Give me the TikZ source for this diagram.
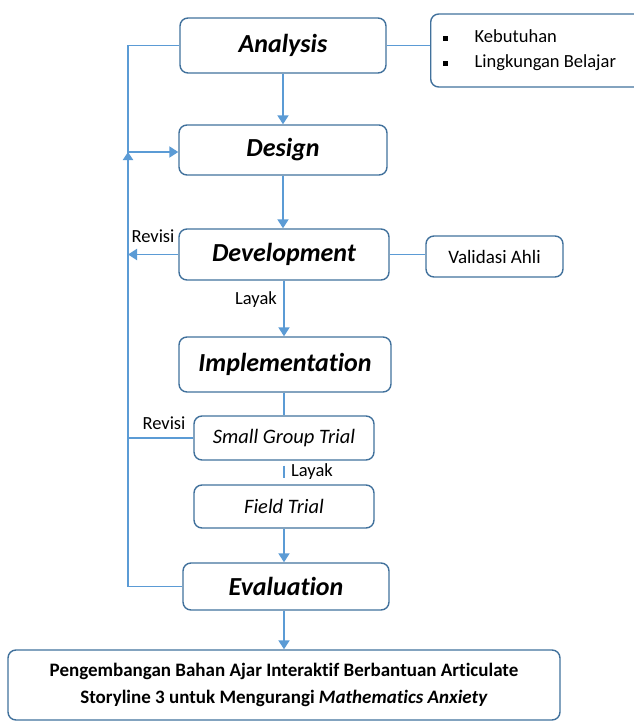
\documentclass[tikz,border=0pt]{standalone}
\usepackage{fontspec}
\setmainfont{Carlito}[Ligatures=NoCommon]
\usetikzlibrary{arrows.meta}
\definecolor{boxline}{HTML}{41719C}
\definecolor{linkblue}{HTML}{5B9BD5}
\begin{document}
\begin{tikzpicture}[x=1pt,y=-1pt,
  box/.style={draw=boxline,line width=1.4pt,rounded corners=8pt,align=center,inner sep=0pt},
  phase/.style={box,font=\fontsize{26}{30}\selectfont\bfseries\itshape},
  subbox/.style={box,font=\fontsize{20.5}{24}\selectfont\itshape},
  link/.style={draw=linkblue,line width=1.9pt},
  arr/.style={link,-{Triangle[width=11pt,length=9pt]}},
  lbl/.style={font=\fontsize{18.5}{22}\selectfont,inner sep=0pt}]
\useasboundingbox (0,0) rectangle (633,723);

% main ADDIE stages
\node[phase,minimum width=206pt,minimum height=55pt] (ana) at (283,45.5) {Analysis};
\node[phase,minimum width=208pt,minimum height=50pt] (des) at (283,150) {Design};
\node[phase,minimum width=210pt,minimum height=51pt] (dev) at (284,254.5) {Development};
\node[phase,minimum width=212pt,minimum height=55pt] (imp) at (285,364.5) {Implementation};
\node[subbox,minimum width=180pt,minimum height=44pt] (sgt) at (284,438) {Small Group Trial};
\node[subbox,minimum width=180pt,minimum height=43pt] (ft) at (284,506.5) {Field Trial};
\node[phase,minimum width=206pt,minimum height=47pt] (eva) at (286,586.5) {Evaluation};

% side boxes
\node[box,anchor=west,minimum height=73pt,text width=190pt,align=flush left,inner xsep=12pt,
      font=\fontsize{18.5}{25}\selectfont] (keb) at (430,50.5)
  {\raisebox{2pt}{\rule{5pt}{5pt}}\hspace{27pt}Kebutuhan\\
   \raisebox{2pt}{\rule{5pt}{5pt}}\hspace{27pt}Lingkungan Belajar};
\node[box,minimum width=137pt,minimum height=41pt,font=\fontsize{19}{22}\selectfont] (val) at (494.5,256.5) {Validasi Ahli};

% outcome
\node[box,minimum width=552pt,minimum height=70pt,font=\fontsize{19}{27}\selectfont\bfseries] (res) at (284,685)
  {Pengembangan Bahan Ajar Interaktif Berbantuan Articulate\\
   Storyline 3 untuk Mengurangi \textit{Mathematics Anxiety}};

% downward flow
\draw[arr] (ana.south) -- (ana.south |- des.north);
\draw[arr] (des.south) -- (des.south |- dev.north);
\draw[arr] (dev.south) -- (dev.south |- imp.north);
\draw[link] (sgt.north |- imp.south) -- (sgt.north);
\draw[link,shorten <=5pt,shorten >=6pt] (sgt.south) -- (sgt.south |- ft.north);
\draw[arr] (ft.south) -- (ft.south |- eva.north);
\draw[arr] (ft.south |- eva.south) -- (ft.south |- res.north);

% side links
\draw[link] (ana.east) -- (ana.east -| keb.west);
\draw[link] (dev.east) -- (dev.east -| val.west);

% revision loop on the left
\coordinate (topL) at (128,45.5);
\coordinate (botL) at (128,586.5);
\coordinate (upTop) at (128,152);
\coordinate (upBot) at (128,308);
\draw[link] (ana.west) -- (topL) -- (botL) -- (eva.west);
\draw[draw=linkblue,line width=2.9pt,-{Triangle[width=10pt,length=8pt]}] (upBot) -- (upTop);
\draw[arr] (upTop) -- (upTop -| des.west);
\draw[arr] (dev.west) -- (dev.west -| topL);
\draw[link] (sgt.west) -- (sgt.west -| topL);

% labels
\node[lbl] (rev1) at (153,236) {Revisi};
\node[lbl] (lay1) at (256,300) {Layak};
\node[lbl] (rev2) at (164,423) {Revisi};
\node[lbl] (lay2) at (312,472) {Layak};
\end{tikzpicture}
\end{document}
